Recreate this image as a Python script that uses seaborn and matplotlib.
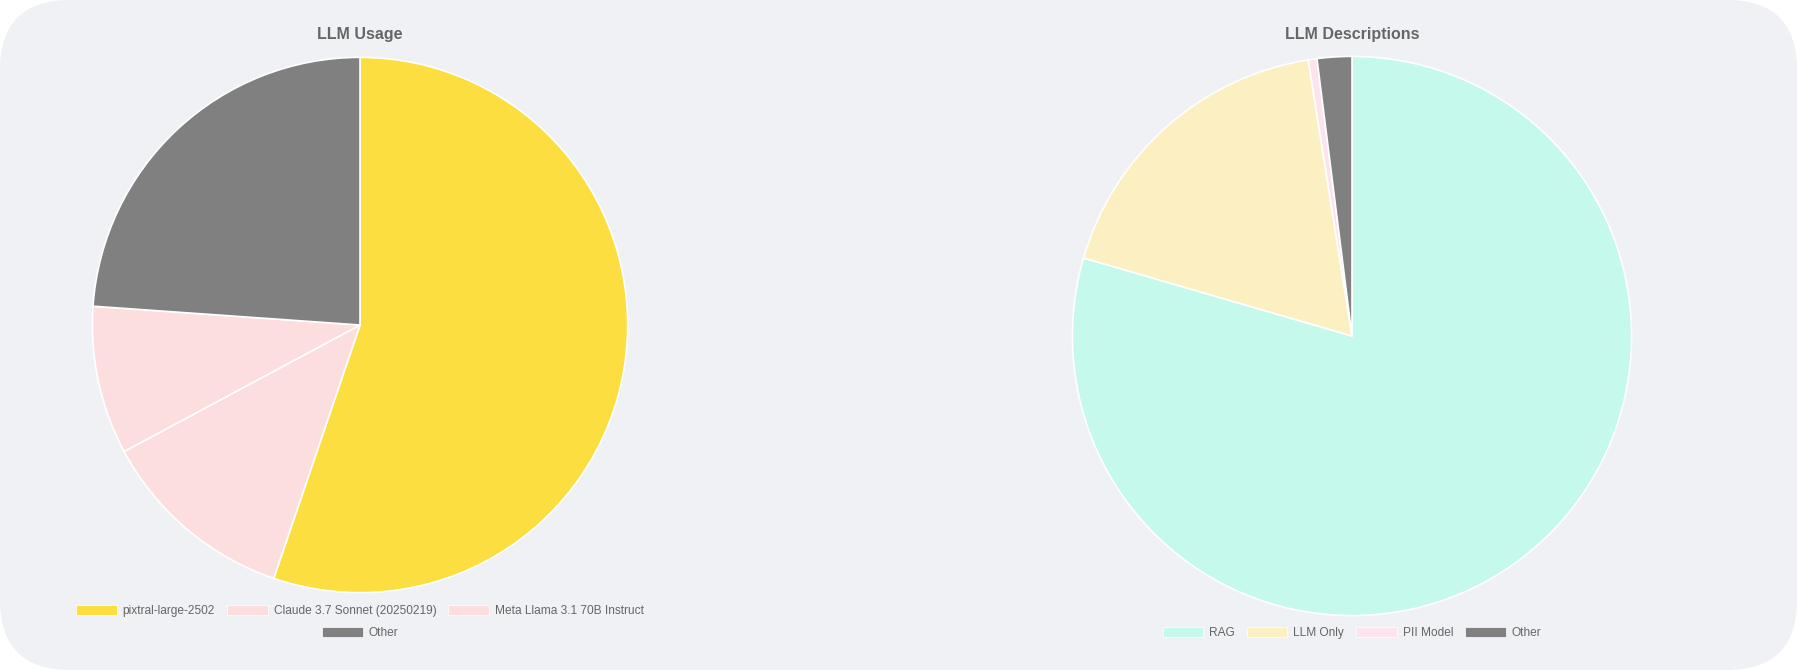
import matplotlib
matplotlib.use("Agg")
import matplotlib.pyplot as plt
from matplotlib.patches import FancyBboxPatch, Patch
import seaborn as sns

# LLM Usage
usage_labels = ["pixtral-large-2502", "Claude 3.7 Sonnet (20250219)", "Meta Llama 3.1 70B Instruct", "Other"]
usage_values = [37, 8, 6, 16]
usage_colors = ["#FDDE40", "#FDDEDF", "#FDDEDF", "#808080"]

# LLM Descriptions
desc_labels = ["RAG", "LLM Only", "PII Model", "Other"]
desc_values = [159, 36, 1, 4]
desc_colors = ["#C4F9EC", "#FCF0C3", "#FCE3EE", "#808080"]

W, H = 1797, 670
sns.set_theme(style="white")
plt.rcParams["font.family"] = ["Liberation Sans", "DejaVu Sans"]
text_color = "#666666"

fig = plt.figure(figsize=(W / 100, H / 100), dpi=100, facecolor="white")

# rounded card background
bg = fig.add_axes([0, 0, 1, 1])
bg.set_xlim(0, W)
bg.set_ylim(0, H)
bg.axis("off")
bg.add_patch(FancyBboxPatch((0, 0), W, H, boxstyle="round,pad=0,rounding_size=70",
                            facecolor="#F0F1F5", edgecolor="none"))


def draw_pie(values, colors, cx, cy, r):
    ax = fig.add_axes([(cx - r) / W, 1 - (cy + r) / H, 2 * r / W, 2 * r / H])
    ax.pie(values, colors=colors, startangle=90, counterclock=False, radius=1,
           wedgeprops=dict(edgecolor="white", linewidth=1.2))
    # pie() pads the limits to 1.25, put them back so the circle fills the axes
    ax.set_xlim(-1.005, 1.005)
    ax.set_ylim(-1.005, 1.005)
    ax.set_aspect("equal")
    ax.axis("off")
    return ax


def add_legend(labels, colors, cx, cy):
    handles = [Patch(facecolor=c, edgecolor="white", linewidth=0.5) for c in colors]
    leg = fig.legend(handles, labels, loc="center", bbox_to_anchor=(cx / W, 1 - cy / H),
                     ncol=len(labels), frameon=False, fontsize=8.6, handlelength=3.4,
                     handleheight=0.95, handletextpad=0.5, columnspacing=1.0,
                     labelcolor=text_color, borderpad=0)
    return leg


draw_pie(usage_values, usage_colors, 360, 325, 269)
fig.text(360 / W, 1 - 34 / H, "LLM Usage", ha="center", va="center",
         fontsize=11.5, fontweight="bold", color=text_color)
add_legend(usage_labels[:3], usage_colors[:3], 360, 611)
add_legend(usage_labels[3:], usage_colors[3:], 360, 633)

draw_pie(desc_values, desc_colors, 1352, 336, 281)
fig.text(1352 / W, 1 - 34 / H, "LLM Descriptions", ha="center", va="center",
         fontsize=11.5, fontweight="bold", color=text_color)
add_legend(desc_labels, desc_colors, 1352, 633)

fig.savefig("out.png", dpi=100, facecolor="white")
